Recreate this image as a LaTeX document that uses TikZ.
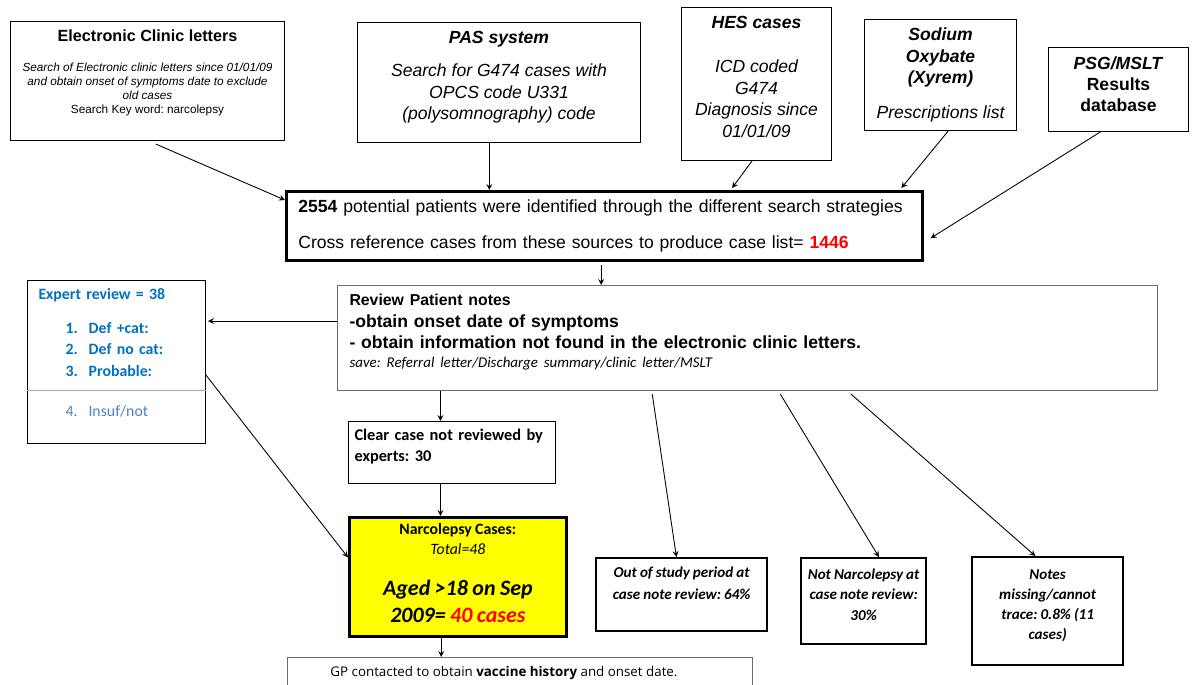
\documentclass[tikz,border=0pt]{standalone}
\usepackage{fontspec}
\setmainfont{Liberation Sans}
\newfontfamily\calfont{Carlito}[WordSpace=0.9]
\newfontfamily\gpfont{Open Sans}
\usetikzlibrary{calc}
\definecolor{azul}{RGB}{0,112,192}
\definecolor{azulclaro}{RGB}{79,129,189}
\definecolor{lineaazul}{RGB}{149,179,215}
\definecolor{rojo}{RGB}{255,0,0}
\definecolor{amarillo}{RGB}{255,255,0}
\definecolor{gris}{RGB}{110,110,110}
\newcommand{\fsz}[2]{\fontsize{#1}{#2}\selectfont}
\frenchspacing

\begin{document}
\begin{tikzpicture}[x=0.02cm, y=-0.02cm, >=stealth,
    caja/.style={draw, line width=0.6pt, anchor=north west, inner sep=0pt, align=center},
    cajagruesa/.style={caja, line width=1.6pt},
    flecha/.style={->, line width=0.5pt}]
    \useasboundingbox (0,0) rectangle (1195,684);

    % Fuentes de busqueda
    \node[caja, minimum width=5.48cm, minimum height=2.38cm, font=\fsz{6.7}{8}] (ecl) at (10,21)
        {{\fsz{9.2}{11}\bfseries Electronic Clinic letters}\\[9pt]
         \textit{Search of Electronic clinic letters since 01/01/09}\\
         \textit{and obtain onset of symptoms date to exclude}\\
         \textit{old cases}\\
         Search Key word: narcolepsy\\[3pt] \mbox{}};
    \node[caja, minimum width=5.66cm, minimum height=2.4cm, font=\fsz{10}{12.2}\itshape] (pas) at (357,22)
        {\textbf{PAS system}\\[7pt]
         Search for G474 cases with\\
         OPCS code U331\\
         (polysomnography) code\\[-4pt] \mbox{}};
    \node[caja, minimum width=3cm, minimum height=3.06cm, font=\fsz{10}{12.2}\itshape] (hes) at (681,7)
        {\textbf{HES cases}\\[13pt]
         ICD coded\\ G474\\ Diagnosis since\\ 01/01/09\\[-4pt] \mbox{}};
    \node[caja, minimum width=3.04cm, minimum height=2.22cm, font=\fsz{10}{12.2}\itshape] (sod) at (864,19)
        {\textbf{Sodium}\\ \textbf{Oxybate}\\ \textbf{(Xyrem)}\\[7.5pt] Prescriptions list};
    \node[caja, minimum width=2.8cm, minimum height=1.68cm, font=\fsz{10}{12.2}\bfseries] (psg) at (1048,47)
        {\textit{PSG/MSLT}\\ Results\\ database\\[-6pt] \mbox{}};

    % Lista de casos
    \node[cajagruesa, align=left, text width=12.24cm, inner xsep=0.24cm, minimum height=1.38cm,
        font=\fsz{10}{12}] (lista) at (285,190)
        {\textbf{2554} potential patients were identified through the different search strategies\\[8.5pt]
         Cross reference cases from these sources to produce case list= \textcolor{rojo}{\textbf{1446}}};

    % Revision de notas
    \node[caja, draw=gris, align=left, text width=15.92cm, inner xsep=0.24cm, minimum height=2.1cm,
        font=\fsz{10}{12}] (notas) at (337,285)
        {{\fsz{9}{12}\bfseries Review Patient notes}\\
         \textbf{-obtain onset date of symptoms}\\
         \textbf{- obtain information not found in the electronic clinic letters.}\\[-1pt]
         {\calfont\fsz{8.5}{10}\itshape save: Referral letter/Discharge summary/clinic letter/MSLT}\\[-4pt] \mbox{}};

    % Revision de expertos
    \node[caja, align=left, text width=3.56cm, minimum height=3.26cm, font=\calfont\fsz{9}{12.2}] (expertos) at (27,280)
        {\hspace*{0.22cm}\textcolor{azul}{\bfseries Expert review = 38}\\[7pt]
         \hspace*{0.76cm}\textcolor{azul}{\bfseries 1.\hspace{0.22cm}Def +cat:}\\
         \hspace*{0.76cm}\textcolor{azul}{\bfseries 2.\hspace{0.22cm}Def no cat:}\\
         \hspace*{0.76cm}\textcolor{azul}{\bfseries 3.\hspace{0.22cm}Probable:}\\[11pt]
         \hspace*{0.76cm}\textcolor{azulclaro}{4.\hspace{0.22cm}Insuf/not}\\[-1.5pt] \mbox{}};
    \draw[lineaazul, line width=0.8pt] ($(expertos.north west)!0.675!(expertos.south west)$)
        -- ($(expertos.north east)!0.675!(expertos.south east)$);

    % Casos
    \node[caja, align=left, text width=3.9cm, inner xsep=0.12cm, minimum height=1.24cm,
        font=\calfont\fsz{9.3}{12}\bfseries] (claro) at (348,421)
        {Clear case not reviewed by\\ experts: 30\\[-4pt] \mbox{}};
    \node[cajagruesa, fill=amarillo, minimum width=4.34cm, minimum height=2.38cm,
        font=\calfont\fsz{9}{11.5}] (narco) at (348,516)
        {\textbf{Narcolepsy Cases:}\\ \textit{Total=48}\\[12pt]
         {\fsz{12.5}{15}\bfseries\itshape Aged >18 on Sep}\\[3.8pt]
         {\fsz{12.5}{15}\bfseries\itshape 2009= \textcolor{rojo}{40 cases}}\\[-7pt] \mbox{}};

    % Exclusiones
    \node[cajagruesa, line width=1.3pt, minimum width=3.42cm, minimum height=1.46cm,
        font=\calfont\fsz{8.6}{12.5}\bfseries\itshape] (periodo) at (595,557)
        {Out of study period at\\ case note review: 64\%\\ \mbox{}};
    \node[cajagruesa, line width=1.3pt, minimum width=2.5cm, minimum height=1.72cm,
        font=\calfont\fsz{8.6}{11.5}\bfseries\itshape] (nonarco) at (800,557)
        {Not Narcolepsy at\\ case note review:\\ 30\%\\[-4pt] \mbox{}};
    \node[cajagruesa, line width=1.3pt, minimum width=3.02cm, minimum height=2.16cm,
        font=\calfont\fsz{8.6}{11.5}\bfseries\itshape] (perdidas) at (971,556)
        {Notes\\ missing/cannot\\ trace: 0.8\% (11\\ cases)\\[-4pt] \mbox{}};

    % Medico de cabecera
    \node[caja, draw=gris, minimum width=9.3cm, minimum height=1.08cm, font=\gpfont\fsz{7.6}{14}] (gp) at (287,657)
        {GP contacted to obtain \textbf{vaccine history} and onset date.\hspace*{0.64cm}\\[1pt] \mbox{}};

    % Flechas
    \draw[flecha] ($(ecl.south west)!0.53!(ecl.south east)+(0,3)$) -- ($(lista.north west)!0.14!(lista.south west)$);
    \draw[flecha] ($(pas.south west)!0.466!(pas.south east)$) coordinate (p1) -- (p1 |- lista.north);
    \draw[flecha] ($(hes.south west)!0.47!(hes.south east)$) -- ($(lista.north west)!0.70!(lista.north east)+(0,-2)$);
    \draw[flecha] ($(sod.south west)!0.55!(sod.south east)$) -- ($(lista.north west)!0.965!(lista.north east)+(0,-2)$);
    \draw[flecha] ($(psg.south west)!0.37!(psg.south east)$) -- ($(lista.north east)!0.67!(lista.south east)+(7,0)$);
    \draw[flecha] ($(lista.south west)!0.495!(lista.south east)+(0,3)$) coordinate (p2) -- (p2 |- notas.north);
    \draw[flecha] ($(notas.north west)!0.34!(notas.south west)$) coordinate (p3) -- ($(p3 -| expertos.east)+(2,0)$);
    \draw[flecha] ($(expertos.north east)!0.58!(expertos.south east)$) -- ($(narco.north west)!0.34!(narco.south west)$);
    \draw[flecha] ($(notas.south west)!0.126!(notas.south east)$) coordinate (p4) -- (p4 |- claro.north);
    \draw[flecha] (claro.south -| p4) -- (p4 |- narco.north);
    \draw[flecha] ($(notas.south west)!0.384!(notas.south east)+(0,3)$) -- ($(periodo.north west)!0.47!(periodo.north east)$);
    \draw[flecha] ($(notas.south west)!0.54!(notas.south east)+(0,3)$) -- ($(nonarco.north west)!0.62!(nonarco.north east)$);
    \draw[flecha] ($(notas.south west)!0.626!(notas.south east)+(0,3)$) -- ($(perdidas.north west)!0.42!(perdidas.north east)$);
    \draw[flecha] ($(narco.south west)!0.424!(narco.south east)$) coordinate (p5) -- (p5 |- gp.north);
\end{tikzpicture}
\end{document}
